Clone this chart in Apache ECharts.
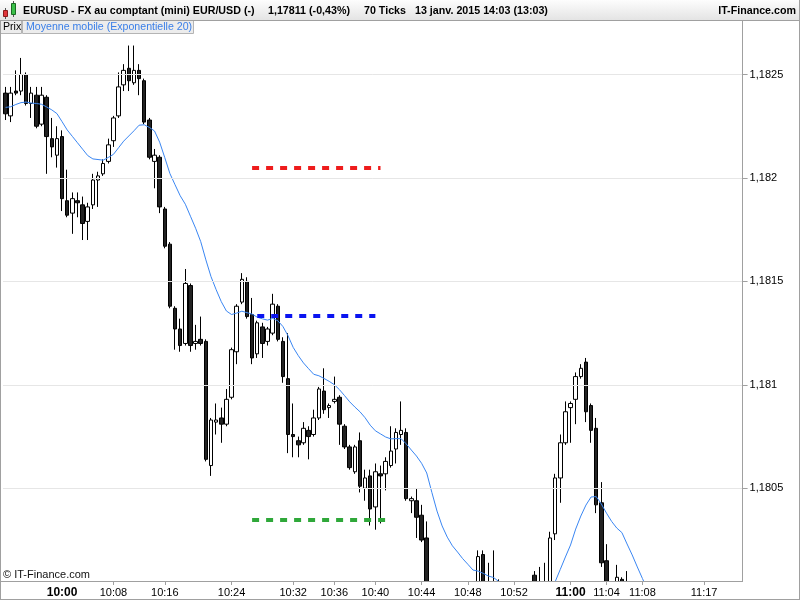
<!DOCTYPE html>
<html><head><meta charset="utf-8">
<script src="https://cdn.jsdelivr.net/npm/echarts@6/dist/echarts.min.js"></script>
<style>html,body{margin:0;padding:0;background:#fff}#c{width:800px;height:600px}</style>
</head><body><div id="c"></div>
<script>
// ---- data (EUR/USD, 70-tick candles) ----
const openP = [
1.18241,1.18230,1.18242,1.18242,1.18250,1.18236,1.18240,1.18226,1.18239,1.18219,
1.18211,1.18220,1.18189,1.18183,1.18189,1.18187,1.18179,1.18187,1.18199,1.18202,
1.18208,1.18218,1.18230,1.18245,1.18253,1.18246,1.18252,1.18247,1.18228,1.18208,
1.18210,1.18185,1.18168,1.18137,1.18127,1.18120,1.18148,1.18120,1.18122,1.18121,
1.18061,1.18082,1.18084,1.18081,1.18094,1.18116,1.18140,1.18150,1.18134,1.18115,
1.18128,1.18121,1.18125,1.18138,1.18121,1.18103,1.18076,1.18073,1.18072,1.18078,
1.18076,1.18084,1.18097,1.18089,1.18092,1.18094,1.18080,1.18070,1.18058,1.18073,
1.18050,1.18056,1.18041,1.18057,1.18057,1.18061,1.18069,1.18076,1.18077,1.18044,
1.18044,1.18037,1.18026,1.17994,1.17990,1.17988,1.17991,1.17995,1.17992,1.17996,
1.17999,1.17994,1.18000,1.18018,1.18002,1.17999,1.18000,1.17998,1.17994,1.17991,
1.17989,1.17992,1.17996,1.18008,1.17998,1.18001,1.18002,1.18028,1.18055,1.18072,
1.18089,1.18093,1.18104,1.18111,1.18090,1.18079,1.18043,1.18015,1.17997,1.18003,
1.18006,1.18002,1.17996,1.17991,1.17988,1.17986];
const closeP = [
1.18231,1.18241,1.18241,1.18250,1.18236,1.18241,1.18225,1.18240,1.18220,1.18215,
1.18219,1.18190,1.18182,1.18190,1.18188,1.18178,1.18186,1.18199,1.18201,1.18207,
1.18216,1.18229,1.18244,1.18252,1.18247,1.18252,1.18248,1.18227,1.18210,1.18211,
1.18186,1.18167,1.18138,1.18127,1.18119,1.18149,1.18119,1.18121,1.18120,1.18064,
1.18083,1.18083,1.18081,1.18093,1.18117,1.18138,1.18151,1.18133,1.18113,1.18130,
1.18120,1.18127,1.18139,1.18122,1.18104,1.18076,1.18075,1.18071,1.18079,1.18075,
1.18084,1.18098,1.18088,1.18090,1.18093,1.18081,1.18070,1.18060,1.18070,1.18051,
1.18055,1.18040,1.18058,1.18056,1.18063,1.18068,1.18077,1.18078,1.18045,1.18045,
1.18036,1.18025,1.17995,1.17990,1.17988,1.17991,1.17995,1.17992,1.17996,1.17999,
1.17994,1.18000,1.18017,1.17998,1.17999,1.18001,1.17998,1.17994,1.17991,1.17989,
1.17992,1.17996,1.18001,1.17997,1.18001,1.18003,1.18026,1.18055,1.18072,1.18087,
1.18091,1.18104,1.18108,1.18087,1.18078,1.18042,1.18014,1.17998,1.17995,1.18007,
1.18002,1.17997,1.17991,1.17988,1.17986,1.17982];
const lowP = [
1.18228,1.18227,1.18240,1.18240,1.18235,1.18229,1.18224,1.18225,1.18202,1.18210,
1.18205,1.18184,1.18181,1.18173,1.18181,1.18170,1.18170,1.18185,1.18186,1.18201,
1.18207,1.18215,1.18229,1.18242,1.18242,1.18245,1.18240,1.18226,1.18209,1.18195,
1.18183,1.18166,1.18137,1.18117,1.18116,1.18119,1.18116,1.18117,1.18119,1.18063,
1.18056,1.18076,1.18072,1.18080,1.18093,1.18110,1.18139,1.18132,1.18110,1.18113,
1.18113,1.18119,1.18124,1.18121,1.18101,1.18067,1.18065,1.18065,1.18071,1.18064,
1.18075,1.18083,1.18086,1.18084,1.18091,1.18071,1.18069,1.18059,1.18057,1.18048,
1.18044,1.18032,1.18030,1.18033,1.18049,1.18060,1.18062,1.18071,1.18044,1.18038,
1.18026,1.18024,1.17992,1.17986,1.17982,1.17980,1.17984,1.17988,1.17985,1.17990,
1.17992,1.17988,1.17997,1.17995,1.17996,1.17996,1.17994,1.17991,1.17988,1.17985,
1.17984,1.17986,1.17990,1.17994,1.17996,1.17997,1.17999,1.18025,1.18043,1.18071,
1.18072,1.18081,1.18103,1.18082,1.18072,1.18038,1.18012,1.17995,1.17992,1.18000,
1.17999,1.17995,1.17988,1.17984,1.17980,1.17978];
const highP = [
1.18244,1.18244,1.18252,1.18258,1.18251,1.18244,1.18244,1.18244,1.18240,1.18229,
1.18225,1.18223,1.18204,1.18193,1.18193,1.18191,1.18188,1.18202,1.18203,1.18209,
1.18219,1.18230,1.18251,1.18255,1.18264,1.18264,1.18255,1.18248,1.18229,1.18214,
1.18211,1.18186,1.18169,1.18138,1.18132,1.18156,1.18149,1.18129,1.18133,1.18122,
1.18084,1.18091,1.18089,1.18098,1.18118,1.18139,1.18154,1.18152,1.18142,1.18131,
1.18130,1.18128,1.18144,1.18139,1.18123,1.18125,1.18091,1.18075,1.18082,1.18080,
1.18088,1.18099,1.18108,1.18091,1.18104,1.18095,1.18081,1.18071,1.18071,1.18077,
1.18059,1.18059,1.18062,1.18061,1.18065,1.18080,1.18079,1.18092,1.18079,1.18046,
1.18050,1.18042,1.18034,1.17998,1.17996,1.17994,1.17997,1.18000,1.17998,1.18002,
1.18003,1.18001,1.18020,1.18020,1.18014,1.18020,1.18006,1.18003,1.18000,1.17997,
1.17995,1.17998,1.18002,1.18010,1.18012,1.18014,1.18029,1.18057,1.18076,1.18092,
1.18092,1.18106,1.18110,1.18113,1.18091,1.18084,1.18053,1.18023,1.18002,1.18013,
1.18007,1.18010,1.17999,1.17995,1.17992,1.17990];
// Moyenne mobile (Exponentielle 20)
const ema20 = [
1.182341,1.182344,1.182355,1.182364,1.182367,1.182362,1.182360,1.182356,1.182343,1.182329,
1.182311,1.182272,1.182232,1.182201,1.182170,1.182139,1.182108,1.182092,1.182089,1.182086,
1.182099,1.182114,1.182146,1.182178,1.182203,1.182228,1.182255,1.182257,1.182244,1.182227,
1.182173,1.182098,1.182021,1.181967,1.181914,1.181873,1.181815,1.181757,1.181692,1.181604,
1.181523,1.181460,1.181402,1.181357,1.181340,1.181347,1.181356,1.181349,1.181342,1.181327,
1.181319,1.181313,1.181321,1.181310,1.181282,1.181237,1.181181,1.181141,1.181106,1.181078,
1.181051,1.181044,1.181031,1.181017,1.181001,1.180977,1.180948,1.180918,1.180893,1.180870,
1.180841,1.180805,1.180778,1.180763,1.180748,1.180739,1.180740,1.180740,1.180715,1.180685,
1.180656,1.180621,1.180574,1.180480,1.180390,1.180318,1.180264,1.180222,1.180192,1.180160,
1.180133,1.180105,1.180100,1.180089,1.180076,1.180069,1.180050,1.180030,1.180010,1.180000,
1.179990,1.179990,1.179990,1.180000,1.180010,1.180020,1.180035,1.180048,1.180108,1.180168,
1.180226,1.180303,1.180366,1.180419,1.180458,1.180460,1.180424,1.180380,1.180340,1.180308,
1.180286,1.180231,1.180178,1.180120,1.180064,1.180009];
// time axis: candle slot -> label
const timeSlots  = [11,21,31,44,56,64,72,81,90,99,110,117,124,136];
const timeLabels = ['10:00','10:08','10:16','10:24','10:32','10:36','10:40','10:44','10:48','10:52','11:00','11:04','11:08','11:17'];
const hourLabels = ['10:00','11:00'];
const priceTicks = [1.1805, 1.181, 1.1815, 1.182, 1.1825];
// horizontal levels drawn on the chart
const levelValues = [1.182047, 1.181332, 1.180347];
const levelFrom   = [48, 49, 48];
const levelTo     = [73, 72, 74];
const levelColors = ['#ee1c1c', '#0a14f0', '#2fa83a'];
const slotCount = 144;
const yMin = 1.180052, yMax = 1.1827634;

const FONT = 'Liberation Sans, Arial, sans-serif';
const slots = Array.from({length: slotCount}, (_, i) => String(i));
const labelMap = {};
timeSlots.forEach((s, k) => { labelMap[s] = timeLabels[k]; });
const candles = openP.map((o, i) => [o, closeP[i], lowP[i], highP[i]]);

const levelLines = levelValues.map((v, k) => [
  {coord: [levelFrom[k], v], lineStyle: {color: levelColors[k], width: 4, type: [7, 7]}},
  {coord: [levelTo[k], v]}
]);

const chart = echarts.init(document.getElementById('c'), null, {renderer: 'canvas'});
chart.setOption({
  animation: false,
  backgroundColor: '#fff',
  grid: {left: 3, top: 20, width: 739.6, height: 561, containLabel: false},
  xAxis: {
    type: 'category', data: slots, boundaryGap: true, z: 20,
    axisLine: {show: false},
    axisTick: {show: true, alignWithLabel: true, length: 4,
      interval: (i) => labelMap[i] !== undefined && hourLabels.indexOf(labelMap[i]) !== 0,
      lineStyle: {color: '#a0a0a0'}},
    axisLabel: {
      interval: (i) => labelMap[i] !== undefined,
      formatter: (v, i) => { const t = labelMap[Number(v)]; if (t === undefined) return ''; return hourLabels.indexOf(t) >= 0 ? '{b|' + t + '}' : t; },
      margin: 6, color: '#000', fontSize: 11, fontFamily: FONT,
      rich: {b: {fontWeight: 'bold', fontSize: 12, color: '#000', fontFamily: FONT}}
    },
    splitLine: {show: false}
  },
  yAxis: {
    type: 'value', position: 'right', min: yMin, max: yMax, z: 20,
    axisLine: {show: true, lineStyle: {color: '#a0a0a0'}},
    axisTick: {show: true, length: 5, customValues: priceTicks, lineStyle: {color: '#a0a0a0'}},
    axisLabel: {customValues: priceTicks, margin: 7, color: '#000', fontSize: 11, fontFamily: FONT,
      formatter: (v) => String(+Number(v).toFixed(4)).replace('.', ',')},
    splitLine: {show: true, lineStyle: {color: '#e6e6e6', width: 1}}
  },
  series: [
    {
      type: 'candlestick', data: candles, barWidth: 4, clip: true, z: 3,
      itemStyle: {color: '#ffffff', color0: '#222222', borderColor: '#000000', borderColor0: '#000000', borderWidth: 1},
      markLine: {silent: true, symbol: ['none', 'none'], label: {show: false}, animation: false, data: levelLines}
    },
    {
      type: 'line', data: ema20, showSymbol: false, symbol: 'none', clip: true, z: 4,
      lineStyle: {color: '#3a86f2', width: 1}
    }
  ],
  graphic: [
    // mask below the plot area (candles are cut at the plot edge)
    {type: 'rect', shape: {x: 0, y: 581.5, width: 800, height: 19}, z: 10, style: {fill: '#ffffff'}},
    // header bar
    {type: 'rect', shape: {x: 0, y: 0, width: 800, height: 20}, z: 50,
      style: {fill: new echarts.graphic.LinearGradient(0, 0, 0, 1, [{offset: 0, color: '#fdfdfd'}, {offset: 1, color: '#e4e4e4'}])}},
    {type: 'line', shape: {x1: 0, y1: 20.5, x2: 800, y2: 20.5}, z: 51, style: {stroke: '#a0a0a0', lineWidth: 1}},
    // icon
    {type: 'line', shape: {x1: 5.5, y1: 8, x2: 5.5, y2: 19}, z: 52, style: {stroke: '#555', lineWidth: 1}},
    {type: 'rect', shape: {x: 3.5, y: 10.5, width: 4, height: 6}, z: 53, style: {fill: '#e0343a', stroke: '#8a1a1a', lineWidth: 1}},
    {type: 'line', shape: {x1: 13.5, y1: 1, x2: 13.5, y2: 17}, z: 52, style: {stroke: '#555', lineWidth: 1}},
    {type: 'rect', shape: {x: 11.5, y: 3.5, width: 4, height: 11}, z: 53, style: {fill: '#3cc04a', stroke: '#1a6a22', lineWidth: 1}},
    {type: 'text', x: 23, y: 11.5, z: 55, style: {text: 'EURUSD - FX au comptant (mini) EUR/USD (-)', font: 'bold 10.7px ' + FONT, fill: '#000', textVerticalAlign: 'middle'}},
    {type: 'text', x: 268, y: 11.5, z: 55, style: {text: '1,17811 (-0,43%)', font: 'bold 10.7px ' + FONT, fill: '#000', textVerticalAlign: 'middle'}},
    {type: 'text', x: 364, y: 11.5, z: 55, style: {text: '70 Ticks', font: 'bold 10.7px ' + FONT, fill: '#000', textVerticalAlign: 'middle'}},
    {type: 'text', x: 415, y: 11.5, z: 55, style: {text: '13 janv. 2015 14:03 (13:03)', font: 'bold 10.7px ' + FONT, fill: '#000', textVerticalAlign: 'middle'}},
    {type: 'text', x: 796, y: 11.5, z: 55, style: {text: 'IT-Finance.com', font: 'bold 10.7px ' + FONT, fill: '#000', textAlign: 'right', textVerticalAlign: 'middle'}},
    // legend tabs
    {type: 'rect', shape: {x: 0.5, y: 20.5, width: 21, height: 13}, z: 50, style: {fill: '#ececec', stroke: '#b4b4b4', lineWidth: 1}},
    {type: 'text', x: 3, y: 27.5, z: 55, style: {text: 'Prix', font: '10.6px ' + FONT, fill: '#000', textVerticalAlign: 'middle'}},
    {type: 'rect', shape: {x: 22.5, y: 20.5, width: 171, height: 13}, z: 50, style: {fill: '#ececec', stroke: '#b4b4b4', lineWidth: 1}},
    {type: 'text', x: 26, y: 27.5, z: 55, style: {text: 'Moyenne mobile (Exponentielle 20)', font: '10.6px ' + FONT, fill: '#3a7fe8', textVerticalAlign: 'middle'}},
    // frame
    {type: 'line', shape: {x1: 0, y1: 581.5, x2: 742.5, y2: 581.5}, z: 60, style: {stroke: '#a0a0a0', lineWidth: 1}},
    {type: 'line', shape: {x1: 742.5, y1: 20, x2: 742.5, y2: 582}, z: 60, style: {stroke: '#a0a0a0', lineWidth: 1}},
    {type: 'line', shape: {x1: 0.5, y1: 20, x2: 0.5, y2: 600}, z: 60, style: {stroke: '#a0a0a0', lineWidth: 1}},
    {type: 'line', shape: {x1: 0, y1: 599.5, x2: 800, y2: 599.5}, z: 60, style: {stroke: '#a0a0a0', lineWidth: 1}},
    {type: 'line', shape: {x1: 799.5, y1: 0, x2: 799.5, y2: 600}, z: 60, style: {stroke: '#a0a0a0', lineWidth: 1}},
    // copyright
    {type: 'text', x: 3, y: 575, z: 55, style: {text: '\u00a9 IT-Finance.com', font: '11px ' + FONT, fill: '#111', textVerticalAlign: 'middle'}}
  ]
});
</script>
</body></html>
